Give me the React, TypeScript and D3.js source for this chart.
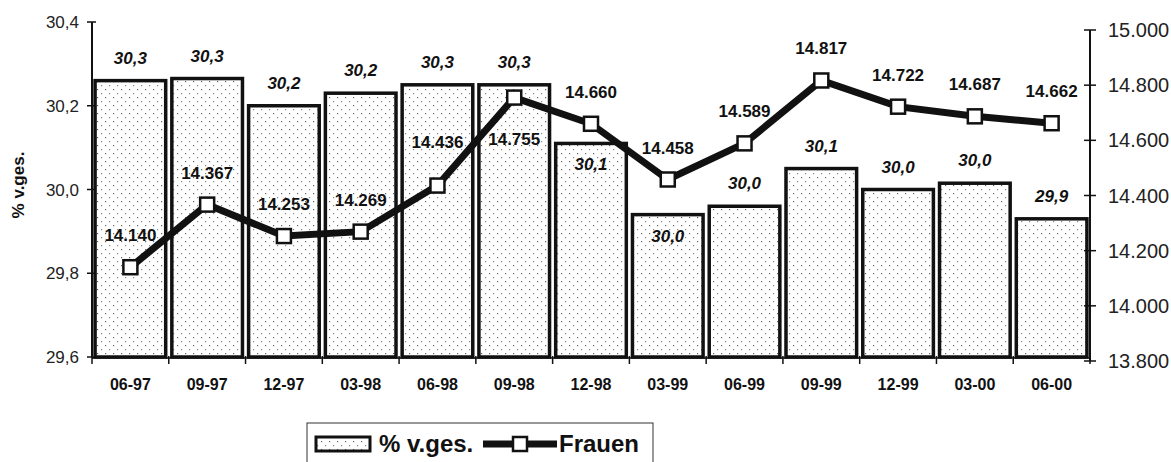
import React from "react";
import * as d3 from "d3";

const categories = ["06-97", "09-97", "12-97", "03-98", "06-98", "09-98", "12-98", "03-99", "06-99", "09-99", "12-99", "03-00", "06-00"];
const shareValues = [30.26, 30.265, 30.2, 30.23, 30.25, 30.25, 30.11, 29.94, 29.96, 30.05, 30.0, 30.015, 29.93];
const shareLabels = ["30,3", "30,3", "30,2", "30,2", "30,3", "30,3", "30,1", "30,0", "30,0", "30,1", "30,0", "30,0", "29,9"];
const frauenValues = [14140, 14367, 14253, 14269, 14436, 14755, 14660, 14458, 14589, 14817, 14722, 14687, 14662];
const leftTicks = [29.6, 29.8, 30.0, 30.2, 30.4];
const rightTicks = [13800, 14000, 14200, 14400, 14600, 14800, 15000];
// labels that sit inside the bar / off the usual spot in the original
const insideBarLabels = ["12-98", "03-99"];
const belowLineLabels = ["09-98"];
const higherLineLabels = ["06-98"];

const W = 1171;
const H = 462;
const FONT = "'Liberation Sans', Arial, sans-serif";

const de = d3.formatLocale({ decimal: ",", thousands: ".", grouping: [3], currency: ["", ""] });
const fmtLeft = de.format(".1f");
const fmtThousands = de.format(",");

export default function App() {
  const x = d3.scaleBand<string>().domain(categories).range([92, 1090]).paddingInner(0.08).paddingOuter(0.04);
  const yLeft = d3.scaleLinear().domain([29.6, 30.4]).range([357, 22]);
  const yRight = d3.scaleLinear().domain([13800, 15000]).range([361, 30]);
  const bw = x.bandwidth();
  const step = x.step();
  const cx = (c: string) => (x(c) as number) + bw / 2;

  const line = d3
    .line<number>()
    .x((_, i) => cx(categories[i]))
    .y((d) => yRight(d));

  const boundaries = categories.map((c) => (x(c) as number) - (step - bw) / 2).concat([1090]);

  return (
    <svg width={W} height={H} style={{ position: "absolute", left: 0, top: 0, background: "#fff" }} fontFamily={FONT}>
      <defs>
        <pattern id="stipple" width="8" height="8" patternUnits="userSpaceOnUse">
          <rect width="8" height="8" fill="#fff" />
          <rect x="1" y="1" width="1.2" height="1.2" fill="#666" />
          <rect x="5" y="5" width="1.2" height="1.2" fill="#888" />
        </pattern>
      </defs>

      {/* bars */}
      {categories.map((c, i) => (
        <rect
          key={c}
          x={x(c)}
          y={yLeft(shareValues[i])}
          width={bw}
          height={yLeft(29.6) - yLeft(shareValues[i])}
          fill="url(#stipple)"
          stroke="#111"
          strokeWidth={3.5}
        />
      ))}

      {/* bar labels */}
      {categories.map((c, i) => {
        const inside = insideBarLabels.includes(c);
        const y = inside ? yLeft(shareValues[i]) + 27 : yLeft(shareValues[i]) - 17;
        return (
          <text key={c} x={cx(c)} y={y} textAnchor="middle" fontSize={17} fontWeight="bold" fontStyle="italic" fill="#111">
            {shareLabels[i]}
          </text>
        );
      })}

      {/* left axis */}
      <line x1={92} x2={92} y1={yLeft(30.4)} y2={yLeft(29.6)} stroke="#111" strokeWidth={2} />
      {leftTicks.map((t) => (
        <g key={t}>
          <line x1={87} x2={96} y1={yLeft(t)} y2={yLeft(t)} stroke="#111" strokeWidth={1.5} />
          <text x={79} y={yLeft(t) + 6} textAnchor="end" fontSize={17} fill="#222">
            {fmtLeft(t)}
          </text>
        </g>
      ))}
      <text transform={`translate(24,185) rotate(-90)`} textAnchor="middle" fontSize={17} fontWeight="bold" fill="#111">
        % v.ges.
      </text>

      {/* right axis */}
      <line x1={1090} x2={1090} y1={yRight(15000)} y2={yRight(13800)} stroke="#111" strokeWidth={2} />
      {rightTicks.map((t) => (
        <g key={t}>
          <line x1={1084} x2={1096} y1={yRight(t)} y2={yRight(t)} stroke="#111" strokeWidth={1.5} />
          <text x={1108} y={yRight(t) + 7} textAnchor="start" fontSize={20} fill="#222">
            {fmtThousands(t)}
          </text>
        </g>
      ))}

      {/* x axis */}
      <line x1={92} x2={1090} y1={358} y2={358} stroke="#111" strokeWidth={1.5} />
      {boundaries.map((b, i) => (
        <line key={i} x1={b} x2={b} y1={356} y2={364} stroke="#111" strokeWidth={1.5} />
      ))}
      {categories.map((c) => (
        <text key={c} x={cx(c)} y={390} textAnchor="middle" fontSize={16} fontWeight="bold" fill="#111">
          {c}
        </text>
      ))}

      {/* Frauen line */}
      <path d={line(frauenValues) as string} fill="none" stroke="#111" strokeWidth={7} strokeLinejoin="miter" />
      {categories.map((c, i) => (
        <rect key={c} x={cx(c) - 7} y={yRight(frauenValues[i]) - 7} width={14} height={14} fill="#fff" stroke="#111" strokeWidth={2.5} />
      ))}
      {categories.map((c, i) => {
        const yv = yRight(frauenValues[i]);
        let y = yv - 26;
        if (belowLineLabels.includes(c)) y = yv + 47;
        if (higherLineLabels.includes(c)) y = yv - 38;
        return (
          <text key={c} x={cx(c)} y={y} textAnchor="middle" fontSize={17} fontWeight="bold" fill="#111">
            {fmtThousands(frauenValues[i])}
          </text>
        );
      })}

      {/* legend */}
      <g>
        <rect x={307} y={423} width={346} height={45} fill="#fff" stroke="#333" strokeWidth={1} />
        <rect x={316} y={437} width={54} height={14} fill="url(#stipple)" stroke="#111" strokeWidth={3} />
        <text x={379} y={452} fontSize={24} fontWeight="bold" fill="#111">
          % v.ges.
        </text>
        <line x1={483} x2={557} y1={444} y2={444} stroke="#111" strokeWidth={7} />
        <rect x={513} y={437} width={14} height={14} fill="#fff" stroke="#111" strokeWidth={2.5} />
        <text x={559} y={452} fontSize={24} fontWeight="bold" fill="#111">
          Frauen
        </text>
      </g>
    </svg>
  );
}
